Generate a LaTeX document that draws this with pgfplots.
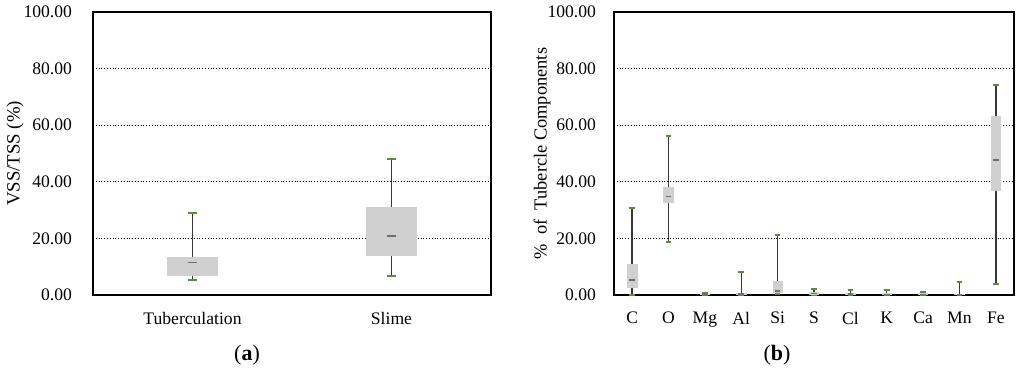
\documentclass[border=0pt]{standalone}
\usepackage{fontspec}
\setmainfont{Liberation Serif}
\usepackage{pgfplots}
\pgfplotsset{compat=1.18}
\usepgfplotslibrary{statistics}
\definecolor{boxgray}{RGB}{208,208,208}
\definecolor{whisk}{RGB}{55,55,55}
\definecolor{capg}{RGB}{85,145,45}
\definecolor{medg}{RGB}{110,110,110}
\def\capL{0.4}\def\capR{0.6}
\pgfplotsset{
  mybox/.style={
    boxplot/draw direction=y,
    boxplot/draw/box/.code={%
      \fill[boxgray] (boxplot box cs:\pgfplotsboxplotvalue{lower quartile},0) rectangle (boxplot box cs:\pgfplotsboxplotvalue{upper quartile},1);
    },
    boxplot/draw/median/.code={%
      \draw[medg, line width=0.9pt] (boxplot box cs:\pgfplotsboxplotvalue{median},\capL) -- (boxplot box cs:\pgfplotsboxplotvalue{median},\capR);
    },
    boxplot/draw/lower whisker/.code={%
      \draw[whisk, line width=0.75pt] (boxplot box cs:\pgfplotsboxplotvalue{lower whisker},0.5) -- (boxplot box cs:\pgfplotsboxplotvalue{lower quartile},0.5);
      \draw[capg, line width=1pt] (boxplot box cs:\pgfplotsboxplotvalue{lower whisker},\capL) -- (boxplot box cs:\pgfplotsboxplotvalue{lower whisker},\capR);
    },
    boxplot/draw/upper whisker/.code={%
      \draw[whisk, line width=0.75pt] (boxplot box cs:\pgfplotsboxplotvalue{upper quartile},0.5) -- (boxplot box cs:\pgfplotsboxplotvalue{upper whisker},0.5);
      \draw[capg, line width=1pt] (boxplot box cs:\pgfplotsboxplotvalue{upper whisker},\capL) -- (boxplot box cs:\pgfplotsboxplotvalue{upper whisker},\capR);
    },
  },
  common/.style={
    anchor=south west, scale only axis, height=141.5pt,
    ymin=0, ymax=100, ytick={0,20,...,100},
    ymajorgrids, grid style={black, densely dotted, line width=0.5pt},
    major tick length=0pt,
    axis line style={black, line width=0.75pt},
    /pgf/number format/fixed, /pgf/number format/fixed zerofill,
    /pgf/number format/precision=2, /pgf/number format/assume math mode=true,
    tick label style={font=\fontsize{8.8}{10}\selectfont},
    xticklabel style={yshift=-5pt},
    boxplot/draw direction=y,
    clip=false,
  },
}
\begin{document}
\begin{tikzpicture}
\useasboundingbox (0,0) rectangle (512pt,187pt);
\begin{axis}[common, at={(46.5pt,39.5pt)}, width=199pt,
  xmin=-0.5, xmax=1.5, xtick={0,1}, xticklabels={Tuberculation,Slime},
  yticklabel style={xshift=-7pt},
  boxplot/box extend=0.25,
  ylabel={VSS/TSS (\%)},
  every axis y label/.style={at={(axis description cs:-0.196,0.5)}, rotate=90, anchor=center, font=\fontsize{9.4}{11}\selectfont},
]
\addplot[mybox, boxplot prepared={draw position=0, lower whisker=5.3, lower quartile=6.8, median=11.5, upper quartile=13.2, upper whisker=29.0}] coordinates {};
\addplot[mybox, boxplot prepared={draw position=1, lower whisker=6.8, lower quartile=14.1, median=20.8, upper quartile=31.0, upper whisker=48.2}] coordinates {};
\end{axis}
\def\capL{0.2}\def\capR{0.8}
\begin{axis}[common, at={(307pt,39.5pt)}, width=200pt,
  xmin=-0.5, xmax=10.5, xtick={0,...,10}, xticklabels={C,O,Mg,Al,Si,S,Cl,K,Ca,Mn,Fe},
  yticklabel style={xshift=-5.5pt},
  boxplot/box extend=0.26,
  ylabel={\%\ \ of\ \ Tubercle Components},
  every axis y label/.style={at={(axis description cs:-0.18,0.5)}, rotate=90, anchor=center, font=\fontsize{9.2}{11}\selectfont},
]
\addplot[mybox, boxplot prepared={draw position=0, lower whisker=0, lower quartile=2.7, median=5.3, upper quartile=10.9, upper whisker=30.7}] coordinates {};
\addplot[mybox, boxplot prepared={draw position=1, lower whisker=18.7, lower quartile=32.6, median=34.8, upper quartile=38.0, upper whisker=56.1}] coordinates {};
\addplot[mybox, boxplot prepared={draw position=2, lower whisker=0, lower quartile=0.1, median=0.2, upper quartile=0.3, upper whisker=0.6}] coordinates {};
\addplot[mybox, boxplot prepared={draw position=3, lower whisker=0, lower quartile=0.1, median=0.3, upper quartile=0.6, upper whisker=8.1}] coordinates {};
\addplot[mybox, boxplot prepared={draw position=4, lower whisker=0.2, lower quartile=0.8, median=1.5, upper quartile=4.9, upper whisker=21.2}] coordinates {};
\addplot[mybox, boxplot prepared={draw position=5, lower whisker=0, lower quartile=0.2, median=0.5, upper quartile=1.0, upper whisker=2.1}] coordinates {};
\addplot[mybox, boxplot prepared={draw position=6, lower whisker=0, lower quartile=0.1, median=0.3, upper quartile=0.6, upper whisker=1.9}] coordinates {};
\addplot[mybox, boxplot prepared={draw position=7, lower whisker=0, lower quartile=0.1, median=0.2, upper quartile=0.5, upper whisker=1.8}] coordinates {};
\addplot[mybox, boxplot prepared={draw position=8, lower whisker=0, lower quartile=0.1, median=0.2, upper quartile=0.4, upper whisker=1.1}] coordinates {};
\addplot[mybox, boxplot prepared={draw position=9, lower whisker=0, lower quartile=0.05, median=0.1, upper quartile=0.2, upper whisker=4.6}] coordinates {};
\addplot[mybox, boxplot prepared={draw position=10, lower whisker=3.9, lower quartile=36.8, median=47.6, upper quartile=63.1, upper whisker=74.1}] coordinates {};
\end{axis}
\node[font=\fontsize{11}{13}\selectfont] at (123.5pt,9.5pt) {(\textbf{a})};
\node[font=\fontsize{11}{13}\selectfont] at (388.5pt,9.5pt) {(\textbf{b})};
\end{tikzpicture}
\end{document}
